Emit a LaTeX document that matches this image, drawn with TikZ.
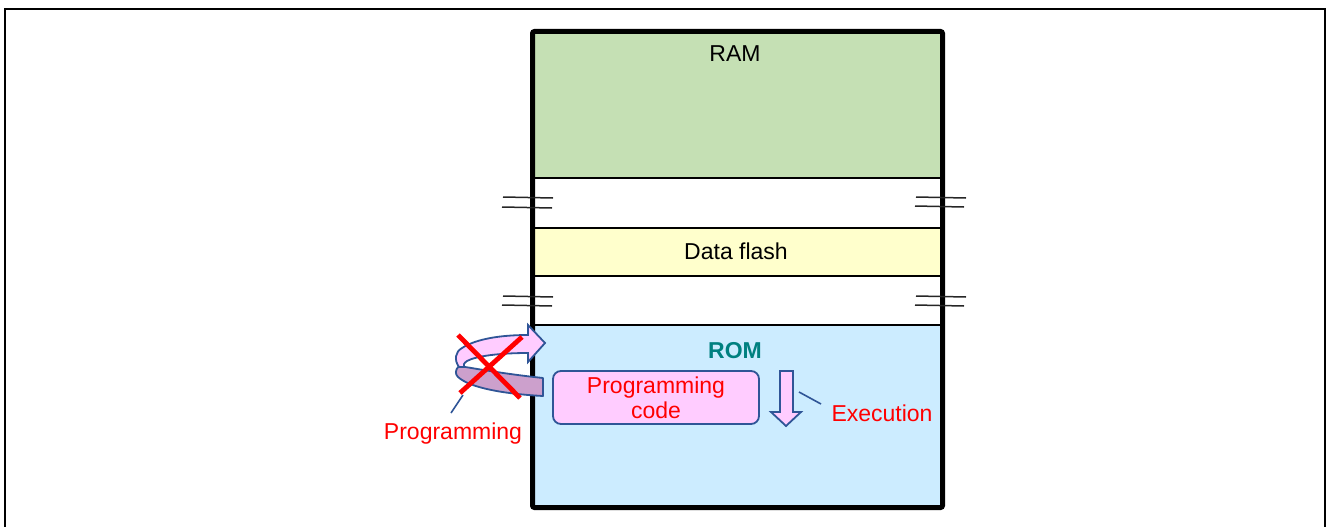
\documentclass[tikz,border=0pt]{standalone}
\usepackage{fontspec}
\setmainfont{Liberation Sans}
\definecolor{ramgreen}{HTML}{C5E0B4}
\definecolor{flashyellow}{HTML}{FFFFCC}
\definecolor{romblue}{HTML}{CCECFF}
\definecolor{pinkfill}{HTML}{FFCCFF}
\definecolor{mauve}{HTML}{CCA0CC}
\definecolor{edgeblue}{HTML}{2F5597}
\definecolor{tealtxt}{HTML}{008080}
\begin{document}
\begin{tikzpicture}[x=1pt,y=-1pt,
  lbl/.style={font=\fontsize{23}{25}\selectfont, inner sep=0pt},
  redlbl/.style={lbl, text=red},
  sepline/.style={line width=1.2pt},
  brk/.style={line width=1.5pt, black!85},
  blueedge/.style={draw=edgeblue, line width=1.8pt},
  pointer/.style={draw=edgeblue, line width=1.6pt},
  redx/.style={draw=red, line width=4.8pt}]
\useasboundingbox (0,0) rectangle (1326,527);
% picture frame
\draw[line width=2pt] (5,527) -- (5,9) -- (1325,9) -- (1325,527);
% memory areas
\fill[ramgreen] (532,31) rectangle (943,178);
\fill[white] (532,178) rectangle (943,228);
\fill[flashyellow] (532,228) rectangle (943,276);
\fill[white] (532,276) rectangle (943,325);
\fill[romblue] (532,325) rectangle (943,508);
\draw[sepline] (532,178) -- (943,178);
\draw[sepline] (532,228) -- (943,228);
\draw[sepline] (532,276) -- (943,276);
\draw[sepline] (532,325) -- (943,325);
\draw[line width=5pt, rounded corners=2pt] (532.5,31.5) rectangle (942.5,507.5);
% break marks
\draw[brk] (503,197) -- (553,198);
\draw[brk] (502,207) -- (552,208);
\draw[brk] (503,296) -- (553,297);
\draw[brk] (502,305) -- (552,306);
\draw[brk] (916,197) -- (966,198);
\draw[brk] (915,206) -- (964,207);
\draw[brk] (916,296) -- (966,297);
\draw[brk] (915,305) -- (964,306);
% labels
\node[lbl] (ram) at (735,54) {RAM};
\node[lbl] (df) at (736,251) {Data flash};
\node[lbl, font=\fontsize{23}{25}\selectfont\bfseries, text=tealtxt] (rom) at (735,351) {ROM};
\node[blueedge, fill=pinkfill, rounded corners=8pt, minimum width=206pt, minimum height=53pt,
      align=center, text=red, font=\fontsize{23}{25}\selectfont, inner sep=0pt] (pc) at (656,397.5) {Programming\\code};
% execution arrow
\filldraw[fill=pinkfill, blueedge, line join=miter] (780,371) -- (793,371) -- (793,412) -- (801,412) -- (786,426) -- (771,412) -- (780,412) -- cycle;
\node[redlbl] (exe) at (882,413) {Execution};
\coordinate (exeA) at (821,404);
\coordinate (exeB) at (799,392);
\draw[pointer] (exeA) -- (exeB);
% programming circular arrow
\filldraw[fill=mauve, blueedge, line join=round]
  (543,378) .. controls (505,374) and (472,368) .. (459,366)
  .. controls (455,370) and (455,374) .. (458,377)
  .. controls (470,388) and (505,394) .. (543,396) -- cycle;
\filldraw[fill=pinkfill, blueedge, line join=miter]
  (459,367) .. controls (454,360) and (455,352) .. (462,348)
  .. controls (476,339) and (500,335) .. (528,335)
  -- (528,325) -- (545,343) -- (528,362) -- (528,353)
  .. controls (500,353) and (476,356) .. (467,361)
  .. controls (464,363) and (463,365) .. (464,367) -- cycle;
\draw[redx] (458,335) -- (520,398);
\draw[redx] (522,337) -- (460,393);
\node[redlbl] (prog) at (453,434) {Programming};
\coordinate (progA) at (451,413);
\coordinate (progB) at (463,395);
\draw[pointer] (progA) -- (progB);
\end{tikzpicture}
\end{document}
